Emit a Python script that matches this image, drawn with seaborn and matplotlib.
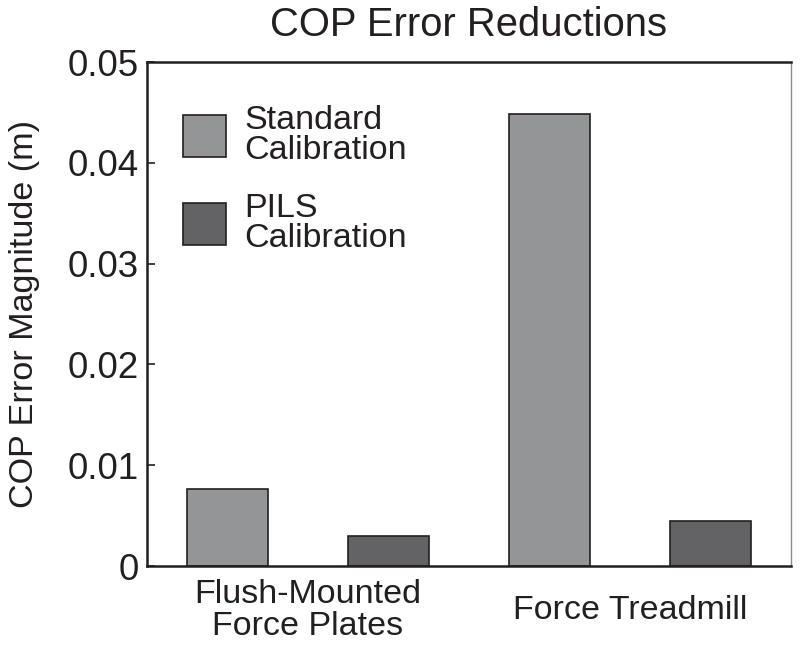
import matplotlib
matplotlib.use("Agg")
import matplotlib.pyplot as plt
import seaborn as sns
import pandas as pd

groups = ["Flush-Mounted\nForce Plates", "Force Treadmill"]
series = ["Standard\nCalibration", "PILS\nCalibration"]
standard_vals = [0.0076, 0.0448]
pils_vals = [0.0030, 0.0045]
ytick_vals = [0, 0.01, 0.02, 0.03, 0.04, 0.05]
ytick_labels = ["0", "0.01", "0.02", "0.03", "0.04", "0.05"]
colors = ["#939598", "#626366"]

df = pd.DataFrame({
    "group": groups * 2,
    "series": [series[0]] * 2 + [series[1]] * 2,
    "value": standard_vals + pils_vals,
})

sns.set_theme(style="white")
plt.rcParams["font.family"] = ["Liberation Sans", "DejaVu Sans"]

fig = plt.figure(figsize=(8, 6.46), dpi=100)
ax = fig.add_axes([147 / 800, 80 / 646, 644 / 800, 504 / 646])

sns.barplot(data=df, x="group", y="value", hue="series", order=groups,
            hue_order=series, palette=colors, width=1.0, gap=0.5,
            edgecolor="#231f20", linewidth=1.2, ax=ax, legend=True)

ax.set_xlim(-0.5, 1.5)
ax.set_ylim(0, 0.05)
ax.set_yticks(ytick_vals)
ax.set_yticklabels(ytick_labels)
ax.tick_params(axis="y", direction="in", length=6, width=1.2, color="#231f20",
               labelsize=26.5, pad=6, left=True)
ax.tick_params(axis="x", length=0, labelsize=24.5, pad=32)
for t in ax.get_xticklabels():
    t.set_linespacing(1.02)
    t.set_color("#231f20")
    t.set_verticalalignment("center")
for t in ax.get_yticklabels():
    t.set_color("#231f20")

ax.set_xlabel("")
ax.set_ylabel("COP Error Magnitude (m)", fontsize=24.6, color="#231f20", labelpad=19.5)
ax.set_title("COP Error Reductions", fontsize=28.8, color="#231f20", pad=18.5)

for s in ["left", "bottom", "top"]:
    ax.spines[s].set_color("#231f20")
    ax.spines[s].set_linewidth(1.8)
ax.spines["right"].set_color("#8a8a8a")
ax.spines["right"].set_linewidth(1.0)

handles, labels = ax.get_legend_handles_labels()
leg = ax.legend(handles, labels, loc="upper left", bbox_to_anchor=(0.056, 0.915),
                frameon=False, fontsize=24.5, handlelength=1.26, handleheight=1.5,
                handletextpad=0.55, labelspacing=0.8, borderpad=0, borderaxespad=0)
for t in leg.get_texts():
    t.set_linespacing(0.95)
    t.set_color("#231f20")

fig.savefig("out.png", dpi=100)
